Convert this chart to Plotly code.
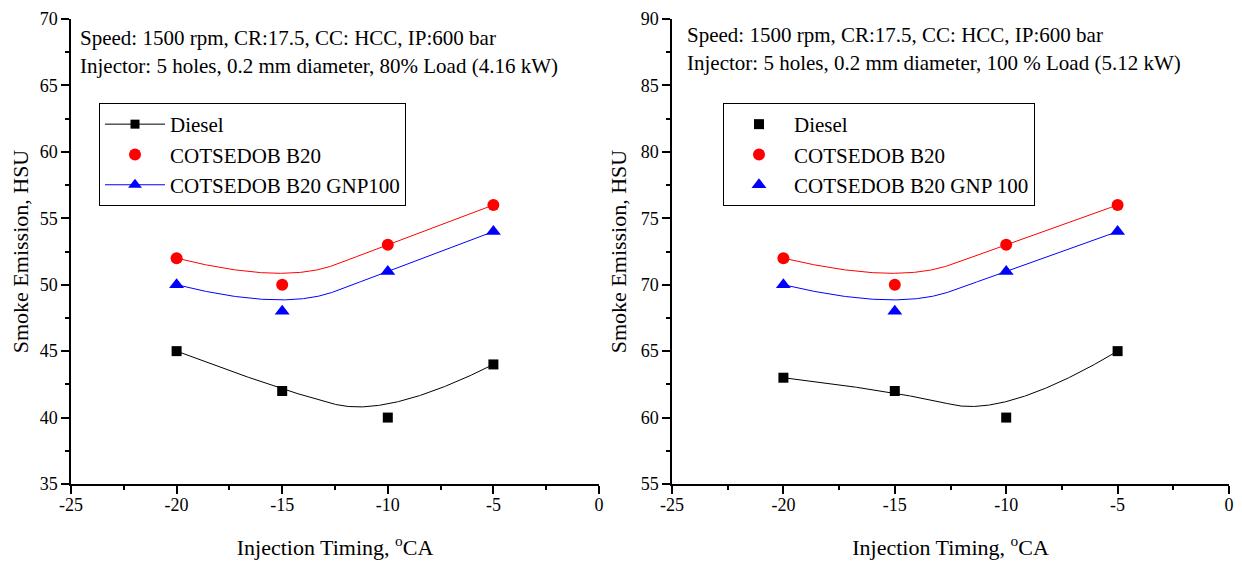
import numpy as np
import plotly.graph_objects as go

# ---------------- data ----------------
timing = [-20, -15, -10, -5]

left_diesel = [45, 42, 40, 44]
left_b20 = [52, 50, 53, 56]
left_gnp = [50, 48, 51, 54]

right_diesel = [63, 62, 60, 65]
right_b20 = [72, 70, 73, 76]
right_gnp = [70, 68, 71, 74]

x_ticks = [-25, -20, -15, -10, -5, 0]
y_ticks_left = [35, 40, 45, 50, 55, 60, 65, 70]
y_ticks_right = [55, 60, 65, 70, 75, 80, 85, 90]

left_text = ["Speed: 1500 rpm, CR:17.5, CC: HCC, IP:600 bar",
             "Injector: 5 holes, 0.2 mm diameter, 80% Load (4.16 kW)"]
right_text = ["Speed: 1500 rpm, CR:17.5, CC: HCC, IP:600 bar",
              "Injector: 5 holes, 0.2 mm diameter, 100 % Load (5.12 kW)"]

names_left = ["Diesel", "COTSEDOB B20", "COTSEDOB B20 GNP100"]
names_right = ["Diesel", "COTSEDOB B20", "COTSEDOB B20 GNP 100"]

FONT = "Liberation Serif, Times New Roman, serif"


def bspline(xs, ys, k=2, n=300):
    """Clamped uniform B-spline using the data points as control points."""
    P = np.column_stack([xs, ys]).astype(float)
    m = len(P)
    knots = np.array([0.0] * (k + 1) + list(range(1, m - k)) + [float(m - k)] * (k + 1))
    ts = np.linspace(0, m - k, n)

    def basis(i, p, t):
        if p == 0:
            if knots[i] <= t < knots[i + 1]:
                return 1.0
            if t == knots[-1] and knots[i] < t <= knots[i + 1]:
                return 1.0
            return 0.0
        a = 0.0
        d1 = knots[i + p] - knots[i]
        if d1 > 0:
            a += (t - knots[i]) / d1 * basis(i, p - 1, t)
        d2 = knots[i + p + 1] - knots[i + 1]
        if d2 > 0:
            a += (knots[i + p + 1] - t) / d2 * basis(i + 1, p - 1, t)
        return a

    pts = np.array([sum(basis(i, k, t) * P[i] for i in range(m)) for t in ts])
    return pts[:, 0], pts[:, 1]


fig = go.Figure()

series = [
    ("black", "square", 10),
    ("red", "circle", 12),
    ("blue", "triangle-up", 13),
]

panels = [
    ("x", "y", [left_diesel, left_b20, left_gnp], "legend"),
    ("x2", "y2", [right_diesel, right_b20, right_gnp], "legend2"),
]

for xa, ya, vals, lg in panels:
    for (col, sym, sz), v in zip(series, vals):
        cx, cy = bspline(timing, v)
        fig.add_trace(go.Scatter(x=cx, y=cy, mode="lines", xaxis=xa, yaxis=ya,
                                 line=dict(color=col, width=1), showlegend=False,
                                 hoverinfo="skip"))

# marker traces
for xa, ya, vals, lg in panels:
    for idx, ((col, sym, sz), v) in enumerate(zip(series, vals)):
        if lg == "legend":
            show = idx == 1
            name = names_left[idx]
        else:
            show = True
            name = names_right[idx]
        fig.add_trace(go.Scatter(x=timing, y=v, mode="markers", xaxis=xa, yaxis=ya,
                                 marker=dict(color=col, symbol=sym, size=sz),
                                 name=name, showlegend=show, legend=lg,
                                 legendrank=idx + 1))

# legend proxies for left panel entries drawn with line + symbol
for idx in (0, 2):
    col, sym, sz = series[idx]
    fig.add_trace(go.Scatter(x=[None], y=[None], mode="lines+markers",
                             xaxis="x", yaxis="y",
                             line=dict(color=col, width=1),
                             marker=dict(color=col, symbol=sym, size=sz - 1),
                             name=names_left[idx], legend="legend",
                             legendrank=idx + 1))

# page has an 8px body margin: figure occupies (8,8) .. (1242,567)
OFF = 8
W, H = 1242 - OFF, 567 - OFF


def px(x):
    return (x - OFF) / W


def py(y):
    return 1 - (y - OFF) / H


xl = [px(71), px(599)]
xr = [px(672), px(1229)]
yd = [py(484), py(19)]

axis_common = dict(showline=True, linecolor="black", linewidth=1.5, ticks="outside",
                   ticklen=8, tickwidth=1.5, tickcolor="black", showgrid=False,
                   zeroline=False, mirror=False, automargin=False,
                   tickfont=dict(family=FONT, size=18, color="black"),
                   minor=dict(ticks="outside", ticklen=4, tickwidth=1.5, tickcolor="black",
                              showgrid=False))

xtitle = dict(text="Injection Timing, <sup>o</sup>CA",
              font=dict(family=FONT, size=22, color="black"), standoff=25)
ytitle = dict(text="Smoke Emission, HSU",
              font=dict(family=FONT, size=22, color="black"), standoff=8)

xt_text = [str(v) for v in x_ticks]

fig.update_layout(
    width=W, height=H,
    margin=dict(l=0, r=0, t=0, b=0),
    paper_bgcolor="white", plot_bgcolor="white",
    font=dict(family=FONT, color="black"),
    xaxis=dict(domain=xl, range=[-25, 0], tickvals=x_ticks, ticktext=xt_text, anchor="y",
               title=xtitle, minor_dtick=2.5, ticklabelstandoff=-4, **axis_common),
    yaxis=dict(domain=yd, range=[35, 70], tickvals=y_ticks_left,
               ticktext=[str(v) for v in y_ticks_left], anchor="x",
               title=ytitle, minor_dtick=2.5, **axis_common),
    xaxis2=dict(domain=xr, range=[-25, 0], tickvals=x_ticks, ticktext=xt_text, anchor="y2",
                title=xtitle, minor_dtick=2.5, ticklabelstandoff=-4, **axis_common),
    yaxis2=dict(domain=yd, range=[55, 90], tickvals=y_ticks_right,
                ticktext=[str(v) for v in y_ticks_right], anchor="x2",
                title=ytitle, minor_dtick=2.5, **axis_common),
    legend=dict(x=px(99), y=py(103), xanchor="left", yanchor="top",
                bordercolor="black", borderwidth=1, bgcolor="white",
                font=dict(family=FONT, size=21, color="black"),
                itemwidth=60, tracegroupgap=0, traceorder="normal"),
    legend2=dict(x=px(723), y=py(103), xanchor="left", yanchor="top",
                 bordercolor="black", borderwidth=1, bgcolor="white",
                 font=dict(family=FONT, size=21, color="black"),
                 itemwidth=60, tracegroupgap=0, traceorder="normal"),
    showlegend=True,
)

annos = []
for i, t in enumerate(left_text):
    annos.append(dict(text=t, xref="paper", yref="paper", x=px(78), y=py(38 + 28 * i),
                      xanchor="left", yanchor="middle", showarrow=False,
                      font=dict(family=FONT, size=21, color="black")))
for i, t in enumerate(right_text):
    annos.append(dict(text=t, xref="paper", yref="paper", x=px(685), y=py(35 + 28 * i),
                      xanchor="left", yanchor="middle", showarrow=False,
                      font=dict(family=FONT, size=21, color="black")))
fig.update_layout(annotations=annos)

fig.write_html("out.html")
